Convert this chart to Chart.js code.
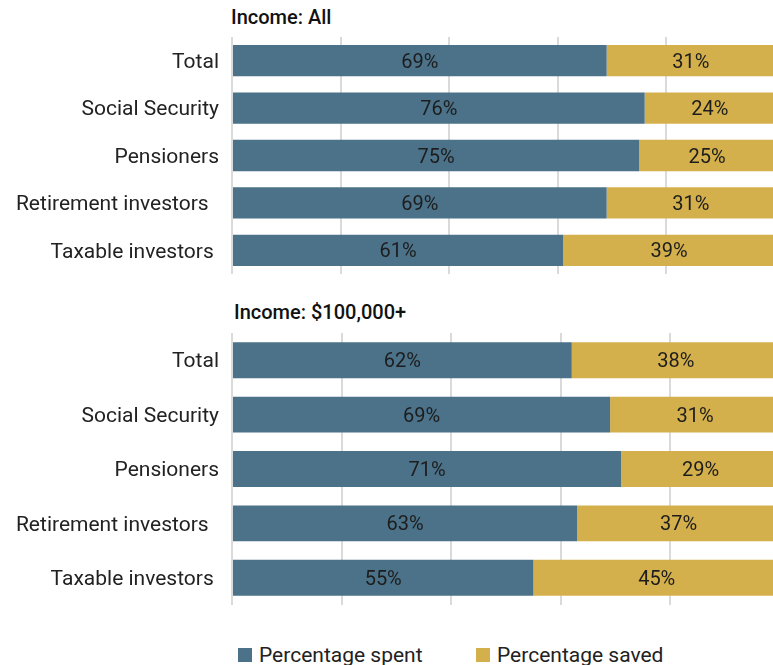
<!DOCTYPE html>
<html>
<head>
<meta charset="utf-8">
<script src="https://cdn.jsdelivr.net/npm/chart.js@4.4.1/dist/chart.umd.min.js"></script>
<style>
  html, body { margin: 0; padding: 0; background: #fff; }
  body { width: 773px; height: 665px; position: relative; overflow: hidden; font-family: Roboto, sans-serif; }
  .panel-title { position: absolute; font-size: 20px; font-weight: 500; color: #111; }
  .chart-box { position: absolute; left: 0; }
  #legend { position: absolute; top: 643px; left: 238px; display: flex; font-size: 21px; color: #222; }
  #legend .item { display: flex; align-items: center; }
  #legend .swatch { width: 14px; height: 14px; margin-right: 7px; }
</style>
</head>
<body>
<div class="panel-title" style="left:231px; top:5px;">Income: All</div>
<div class="chart-box" style="top:37px; width:775px; height:237px;"><canvas id="chartAll"></canvas></div>
<div class="panel-title" style="left:234px; top:300px;">Income: $100,000+</div>
<div class="chart-box" style="top:333px; width:780px; height:272px;"><canvas id="chartHigh"></canvas></div>
<div id="legend"></div>

<script>
/* ─── Datos ─── */
const CATEGORIES = ['Total', 'Social Security', 'Pensioners', 'Retirement investors  ', 'Taxable investors '];
const SERIES_NAMES = ['Percentage spent', 'Percentage saved'];
const SERIES_COLORS = ['#4b7289', '#d4b04c'];

const ALL_SPENT  = [69, 76, 75, 69, 61];
const ALL_SAVED  = [31, 24, 25, 31, 39];
const HIGH_SPENT = [62, 69, 71, 63, 55];
const HIGH_SAVED = [38, 31, 29, 37, 45];

const X_TICKS = [0, 20, 40, 60, 80, 100];

/* ─── Etiquetas dentro de cada segmento ─── */
const segmentLabels = {
  id: 'segmentLabels',
  afterDatasetsDraw(chart) {
    const { ctx } = chart;
    ctx.save();
    ctx.font = '20px Roboto';
    ctx.fillStyle = '#1d1d1d';
    ctx.textAlign = 'center';
    ctx.textBaseline = 'middle';
    chart.data.datasets.forEach((ds, i) => {
      chart.getDatasetMeta(i).data.forEach((bar, j) => {
        ctx.fillText(`${ds.data[j]}%`, (bar.base + bar.x) / 2, bar.y + 2);
      });
    });
    ctx.restore();
  },
};

function makeChart(id, spent, saved) {
  const ctx = document.getElementById(id).getContext('2d');
  return new Chart(ctx, {
    type: 'bar',
    data: {
      labels: CATEGORIES,
      datasets: [spent, saved].map((d, i) => ({
        label:           SERIES_NAMES[i],
        data:            d,
        backgroundColor: SERIES_COLORS[i],
        borderWidth:     0,
        barPercentage:   0.66,
        categoryPercentage: 1,
      })),
    },
    options: {
      indexAxis: 'y',
      responsive: true,
      maintainAspectRatio: false,
      animation: false,
      layout: { padding: 0 },
      plugins: {
        legend: { display: false },
        tooltip: { enabled: false },
      },
      scales: {
        x: {
          stacked: true,
          min: 0,
          max: 100,
          afterBuildTicks: s => { s.ticks = X_TICKS.map(v => ({ value: v })); },
          grid: { color: '#dadada', lineWidth: 2, drawTicks: false },
          border: { display: false },
          ticks: { display: false },
        },
        y: {
          stacked: true,
          afterFit: s => { s.width = 232; s.paddingTop = 0; s.paddingBottom = 0; },
          grid: { display: false, drawTicks: false },
          border: { display: false },
          ticks: { color: '#222', padding: 13, labelOffset: 2, font: { size: 21, family: 'Roboto' } },
        },
      },
    },
    plugins: [segmentLabels],
  });
}

makeChart('chartAll', ALL_SPENT, ALL_SAVED);
makeChart('chartHigh', HIGH_SPENT, HIGH_SAVED);

/* ─── Leyenda ─── */
document.getElementById('legend').innerHTML = SERIES_NAMES.map((n, i) => `
  <div class="item" style="width:${i === 0 ? 238 : 200}px">
    <span class="swatch" style="background:${SERIES_COLORS[i]}"></span>${n}
  </div>`).join('');
</script>
</body>
</html>
